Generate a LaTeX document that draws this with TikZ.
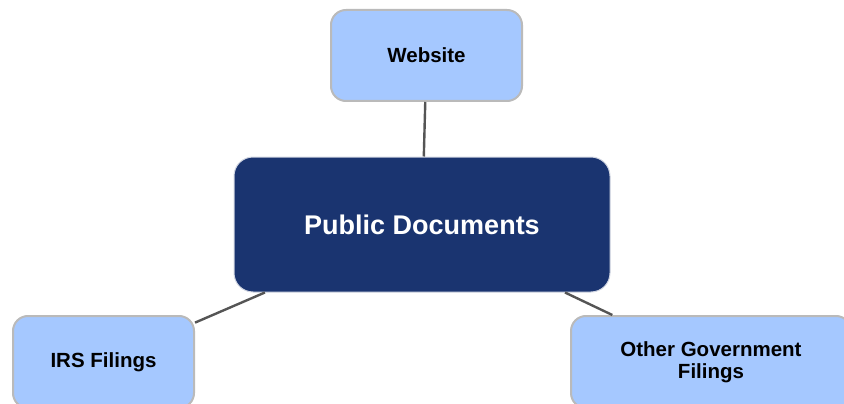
\documentclass[tikz,border=0pt]{standalone}
\usepackage{fontspec}
\setmainfont{Liberation Sans}
\definecolor{leafblue}{HTML}{A5C8FF}
\definecolor{leafborder}{HTML}{BABABA}
\definecolor{hubnavy}{HTML}{1A3470}
\definecolor{linkgray}{HTML}{555555}
\tikzset{
  leaf/.style={draw=leafborder, line width=2pt, fill=leafblue, rounded corners=15pt,
    inner sep=0pt, align=center, text=black,
    font=\fontsize{20.5}{22.5}\selectfont\bfseries},
  hub/.style={draw=white!80!hubnavy, line width=1pt, fill=hubnavy, rounded corners=19pt,
    inner sep=0pt, text=white, minimum width=376pt, minimum height=135pt,
    font=\fontsize{27}{30}\selectfont\bfseries},
  link/.style={draw=linkgray, line width=2.4pt}
}
\begin{document}
\begin{tikzpicture}[x=1pt,y=-1pt]
\useasboundingbox (0,0) rectangle (844,404);
\clip (0,0) rectangle (844,404);
\node[hub] (pub) at (422,224.5) {Public Documents};
\node[leaf, minimum width=191pt, minimum height=91pt] (web) at (426.5,55.5) {Website};
\node[leaf, minimum width=181pt, minimum height=92pt] (irs) at (103.5,362) {IRS Filings};
\node[leaf, minimum width=280pt, minimum height=92pt] (other) at (711,362) {Other Government\\Filings};
\draw[link] (web) -- (pub);
\draw[link] (pub) -- (irs);
\draw[link] (pub) -- (other);
\end{tikzpicture}
\end{document}
